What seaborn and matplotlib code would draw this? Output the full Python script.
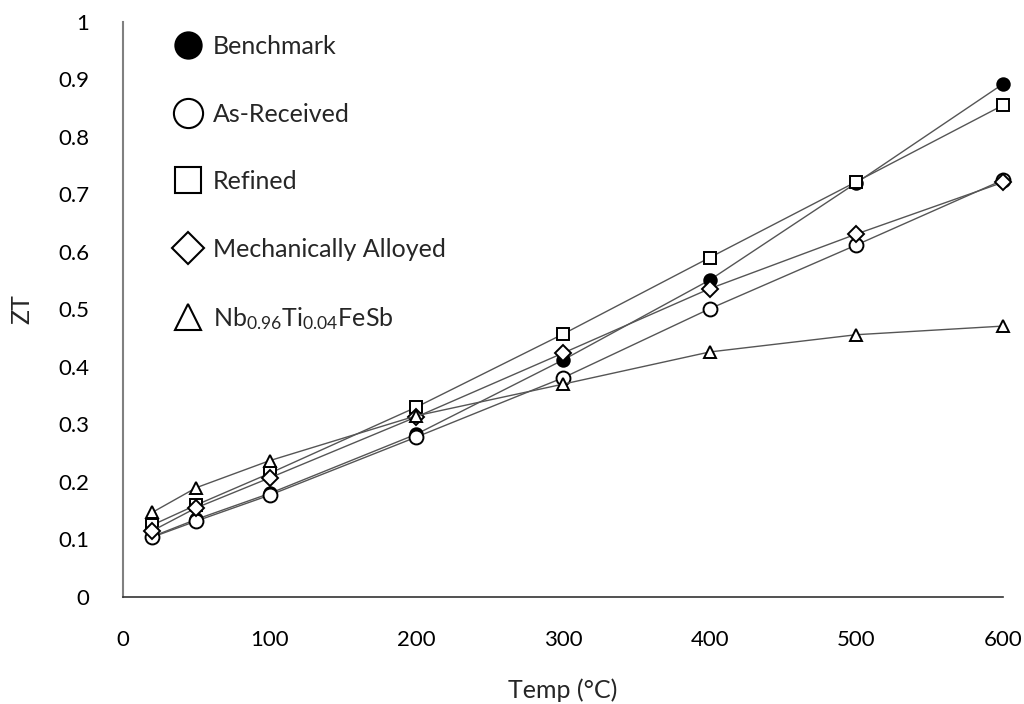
import numpy as np
import pandas as pd
import matplotlib
matplotlib.use('Agg')
import matplotlib.pyplot as plt
from matplotlib.lines import Line2D
from matplotlib.ticker import FuncFormatter
import seaborn as sns

# data
temps = [20, 50, 100, 200, 300, 400, 500, 600]
benchmark = [0.105, 0.135, 0.180, 0.283, 0.412, 0.551, 0.720, 0.892]
as_received = [0.104, 0.132, 0.177, 0.278, 0.381, 0.501, 0.612, 0.725]
refined = [0.125, 0.160, 0.215, 0.330, 0.457, 0.590, 0.722, 0.855]
mech_alloyed = [0.115, 0.155, 0.207, 0.313, 0.424, 0.536, 0.631, 0.721]
nb_ti = [0.147, 0.190, 0.237, 0.315, 0.370, 0.426, 0.456, 0.471]

series_names = ['Benchmark', 'As-Received', 'Refined', 'Mechanically Alloyed',
                'Nb$_{0.96}$Ti$_{0.04}$FeSb']
series_vals = [benchmark, as_received, refined, mech_alloyed, nb_ti]
markers = ['o', 'o', 's', 'D', '^']
faces = ['black', 'white', 'white', 'white', 'white']
sizes = [9, 10, 9, 8, 9]

sns.set_style('white')
plt.rcParams['font.family'] = ['Lato', 'DejaVu Sans']
plt.rcParams['mathtext.default'] = 'regular'

fig = plt.figure(figsize=(10.24, 7.04), dpi=100)
ax = fig.add_axes([0.120, 0.152, 0.8595, 0.817])

for name, vals, m, fc, ms in zip(series_names, series_vals, markers, faces, sizes):
    sns.lineplot(x=temps, y=vals, ax=ax, color='#555555', linewidth=1.0,
                 marker=m, markersize=ms, markerfacecolor=fc,
                 markeredgecolor='black', markeredgewidth=1.4, clip_on=False)

ax.set_xlim(0, 600)
ax.set_ylim(0, 1)
ax.set_xticks(range(0, 601, 100))
ax.set_yticks(np.arange(0, 1.01, 0.1))
ax.yaxis.set_major_formatter(FuncFormatter(lambda v, p: f'{v:g}'))
ax.tick_params(axis='both', length=0, labelsize=16, colors='black')
ax.tick_params(axis='x', pad=24)
ax.tick_params(axis='y', pad=24)

for s in ['top', 'right']:
    ax.spines[s].set_visible(False)
ax.spines['left'].set_color('#808080')
ax.spines['left'].set_linewidth(1.5)
ax.spines['bottom'].set_color('#333333')
ax.spines['bottom'].set_linewidth(1.2)

ax.set_xlabel('Temp (°C)', fontsize=18, labelpad=20)
ax.set_ylabel('ZT', fontsize=18, labelpad=18)

handles = [Line2D([], [], linestyle='none', marker=m, markersize=ms * 2.1,
                  markerfacecolor=fc, markeredgecolor='black', markeredgewidth=1.5)
           for m, fc, ms in zip(markers, faces, sizes)]
ax.legend(handles, series_names, loc='upper left', bbox_to_anchor=(0.147, 0.982),
          bbox_transform=fig.transFigure, frameon=False, fontsize=18,
          labelspacing=1.78, handlelength=1.2, handletextpad=0.4)

fig.savefig('out.png', dpi=100)
